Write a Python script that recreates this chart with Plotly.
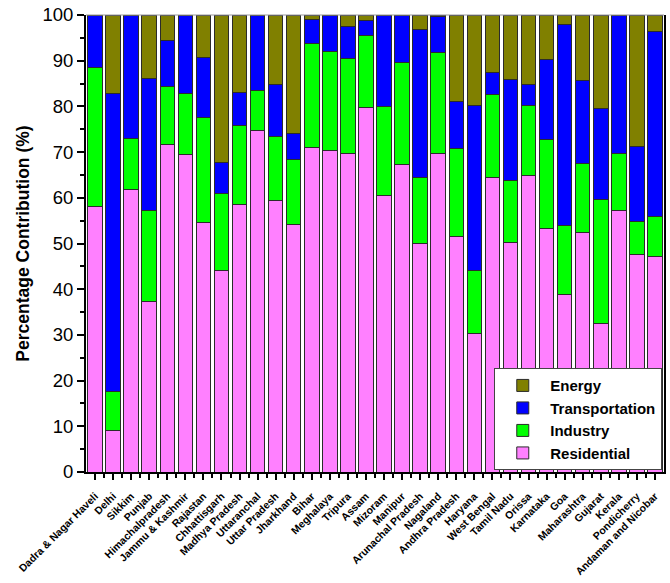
import plotly.graph_objects as go

# States / union territories (x-axis order)
states = [
    "Dadra & Nagar Haveli", "Delhi", "Sikkim", "Punjab", "Himachalpradesh",
    "Jammu & Kashmir", "Rajastan", "Chhattisgarh", "Madhya Pradesh", "Uttaranchal",
    "Uttar Pradesh", "Jharkhand", "Bihar", "Meghalaya", "Tripura", "Assam",
    "Mizoram", "Manipur", "Arunachal Pradesh", "Nagaland", "Andhra Pradesh",
    "Haryana", "West Bengal", "Tamil Nadu", "Orissa", "Karnataka", "Goa",
    "Maharashtra", "Gujarat", "Kerala", "Pondicherry", "Andaman and Nicobar",
]

# Sector shares (%) per state
residential = [58.0, 9.1, 61.9, 37.4, 71.6, 69.4, 54.7, 44.2, 58.6, 74.8,
               59.4, 54.1, 70.9, 70.4, 69.7, 79.8, 60.5, 67.2, 50.1, 69.6,
               51.6, 30.3, 64.4, 50.3, 64.8, 53.2, 38.8, 52.3, 32.5, 57.3,
               47.7, 47.1]
industry = [30.6, 8.6, 11.0, 19.9, 12.8, 13.5, 22.9, 16.7, 17.3, 8.7,
            14.1, 14.2, 22.8, 21.6, 20.8, 15.7, 19.4, 22.5, 14.4, 22.1,
            19.2, 13.7, 18.2, 13.4, 15.5, 19.5, 15.1, 15.2, 27.2, 12.4,
            7.2, 8.8]
transportation = [11.4, 65.2, 27.1, 28.9, 10.1, 17.1, 13.0, 6.9, 7.2, 16.5,
                  11.4, 5.7, 5.4, 8.0, 6.9, 3.3, 20.1, 10.3, 32.4, 7.9,
                  10.3, 36.2, 4.9, 22.2, 4.5, 17.5, 44.1, 18.2, 19.8, 30.3,
                  16.4, 40.4]
energy = [0.0, 17.1, 0.0, 13.8, 5.5, 0.0, 9.4, 32.2, 16.9, 0.0,
          15.1, 26.0, 0.9, 0.0, 2.6, 1.2, 0.0, 0.0, 3.1, 0.4,
          18.9, 19.8, 12.5, 14.1, 15.2, 9.8, 2.0, 14.3, 20.5, 0.0,
          28.7, 3.7]

series = [
    ("Residential", residential, "#FF80FF"),
    ("Industry", industry, "#00FF00"),
    ("Transportation", transportation, "#0000FF"),
    ("Energy", energy, "#808000"),
]

positions = list(range(len(states)))
font_family = "Arial, Liberation Sans, sans-serif"

fig = go.Figure()
for name, vals, color in series:
    fig.add_trace(go.Bar(
        x=positions, y=vals, name=name,
        marker=dict(color=color, line=dict(color="#2b2b2b", width=1)),
    ))

fig.update_layout(
    width=670, height=583,
    barmode="stack", bargap=0.2,
    plot_bgcolor="white", paper_bgcolor="white",
    margin=dict(l=86, r=6, t=15, b=111),
    font=dict(family=font_family, color="black"),
    legend=dict(
        x=0.997, y=0.004, xanchor="right", yanchor="bottom",
        traceorder="reversed",
        bgcolor="white", bordercolor="#444", borderwidth=1,
        font=dict(size=15, family=font_family, weight="bold"),
        itemwidth=45, tracegroupgap=2,
    ),
    shapes=[dict(type="line", xref="paper", yref="paper", x0=0, x1=1, y0=1, y1=1,
                 line=dict(color="#999", width=1))],
)

fig.update_xaxes(
    range=[-0.5, len(states) - 0.5], automargin=False,
    tickmode="array", tickvals=positions, ticktext=states,
    tickangle=-45, tickfont=dict(size=10.5, family=font_family, weight="bold"),
    ticks="outside", ticklen=6, tickwidth=1.5, tickcolor="black",
    ticklabelstandoff=6,
    minor=dict(tickmode="array", tickvals=[p + 0.5 for p in positions[:-1]],
               ticks="outside", ticklen=4, tickwidth=1.5, tickcolor="black"),
    showline=True, linecolor="black", linewidth=2, mirror=False,
    showgrid=False, zeroline=False,
)

fig.update_yaxes(
    range=[0, 100], dtick=10, tick0=0, automargin=False,
    ticks="outside", ticklen=7, tickwidth=1.5, tickcolor="black",
    minor=dict(dtick=5, ticks="outside", ticklen=4, tickwidth=1.5, tickcolor="black"),
    tickfont=dict(size=18.5, family=font_family),
    title=dict(text="Percentage Contribution (%)",
               font=dict(size=17.5, family=font_family, weight="bold"), standoff=8),
    showline=True, linecolor="black", linewidth=2, mirror=True,
    showgrid=False, zeroline=False,
)

fig.write_html("out.html")
